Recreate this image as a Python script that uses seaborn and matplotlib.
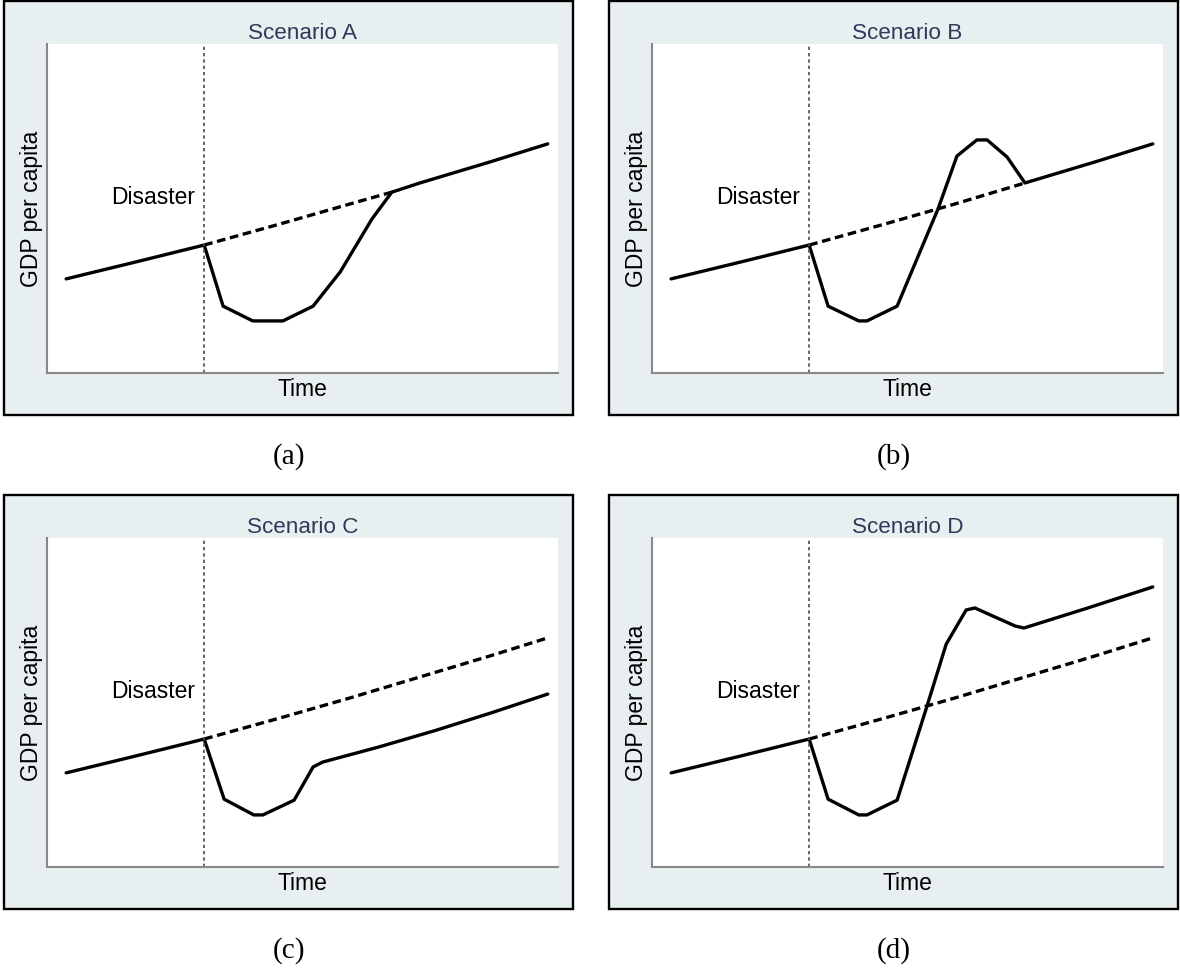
import matplotlib
matplotlib.use("Agg")
import matplotlib.pyplot as plt
from matplotlib.patches import Rectangle
import pandas as pd
import seaborn as sns

# time and GDP in arbitrary units (0-100 on both axes)
trend_time = [3.8, 17.3, 30.8, 45.6, 59.3, 73.0, 86.7, 98.0]
trend_gdp = [28.5, 33.6, 38.8, 45.2, 51.3, 57.7, 64.1, 69.6]
disaster_time = 30.8

# scenario A: recovers back to the trend
a_time = [30.8, 34.5, 40.3, 46.2, 52.1, 57.4, 63.6, 67.5, 73.0, 86.7, 98.0]
a_gdp = [38.8, 20.2, 15.7, 15.7, 20.2, 30.6, 46.7, 54.9, 57.7, 64.1, 69.6]
a_cf_time = [30.8, 45.6, 59.3, 67.5]
a_cf_gdp = [38.8, 45.2, 51.3, 54.9]

# scenario B: overshoot, then back to trend
b_time = [30.8, 34.5, 40.5, 42.1, 48.0, 56.0, 59.7, 63.6, 65.6, 69.5, 73.0, 86.7, 98.0]
b_gdp = [38.8, 20.2, 15.7, 15.7, 20.2, 49.8, 65.9, 70.8, 70.8, 65.6, 57.7, 64.1, 69.6]
b_cf_time = [30.8, 45.6, 59.3, 73.0]
b_cf_gdp = [38.8, 45.2, 51.3, 57.7]

# scenario C: permanent loss
c_time = [30.8, 34.7, 40.5, 42.3, 48.4, 52.1, 54.0, 65.0, 76.0, 87.0, 98.0]
c_gdp = [38.8, 20.5, 15.7, 15.7, 20.2, 30.3, 31.8, 36.4, 41.4, 46.8, 52.5]

# scenario D: permanent gain
d_time = [30.8, 34.5, 40.5, 42.1, 48.0, 53.8, 57.6, 61.5, 63.2, 71.1, 72.8, 85.3, 98.0]
d_gdp = [38.8, 20.5, 15.7, 15.7, 20.2, 48.6, 67.7, 78.1, 78.7, 73.2, 72.6, 78.7, 85.1]

cf_full_time = trend_time[2:]
cf_full_gdp = trend_gdp[2:]

titles = ["Scenario A", "Scenario B", "Scenario C", "Scenario D"]
captions = ["(a)", "(b)", "(c)", "(d)"]

sns.set_theme(style="white")
plt.rcParams["font.family"] = ["Liberation Sans", "DejaVu Sans"]

W, H = 1180, 970
fig = plt.figure(figsize=(W / 100, H / 100), dpi=100)
fig.patch.set_facecolor("white")

panels = [
    (a_time, a_gdp, a_cf_time, a_cf_gdp),
    (b_time, b_gdp, b_cf_time, b_cf_gdp),
    (c_time, c_gdp, cf_full_time, cf_full_gdp),
    (d_time, d_gdp, cf_full_time, cf_full_gdp),
]

pre = pd.DataFrame({"time": trend_time[:3], "gdp": trend_gdp[:3]})

for i, (t, g, cft, cfg) in enumerate(panels):
    dx = 605 * (i % 2)
    dy = 494 * (i // 2)

    # grey panel box
    fig.add_artist(Rectangle(((4 + dx) / W, 1 - (416 + dy) / H), 569 / W, 414.5 / H,
                             transform=fig.transFigure, facecolor="#e8eff1",
                             edgecolor="black", lw=1.7, zorder=-1))

    ax = fig.add_axes([(46.7 + dx) / W, 1 - (373.5 + dy) / H, 511.3 / W, 328.5 / H])
    ax.set_facecolor("white")

    sns.lineplot(data=pre, x="time", y="gdp", ax=ax, color="black", lw=2.4)
    sns.lineplot(x=cft, y=cfg, ax=ax, color="black", lw=2.4, sort=False,
                 linestyle=(0, (2.6, 1.4)), dash_capstyle="butt")
    sns.lineplot(x=t, y=g, ax=ax, color="black", lw=2.4, sort=False)
    ax.axvline(disaster_time, color="#4d4d4d", lw=1.2, linestyle=(0, (2, 1.8)))
    ax.text(disaster_time - 1.8, 51.6, "Disaster", ha="right", va="baseline",
            fontsize=16.5, color="black")

    ax.set(xlim=(0, 100), ylim=(0, 100), xticks=[], yticks=[])
    ax.set_xlabel("Time", fontsize=16.5, labelpad=3, color="black")
    ax.set_ylabel("GDP per capita", fontsize=16.5, labelpad=3, color="black")
    ax.set_title(titles[i], fontsize=16.2, color="#2e3a59", pad=4.3)
    sns.despine(ax=ax)
    for s in ["left", "bottom"]:
        ax.spines[s].set_color("#888888")
        ax.spines[s].set_linewidth(1.5)

    fig.text((288.5 + dx) / W, 1 - (457 + dy) / H, captions[i], ha="center", va="center",
             fontsize=21, family="Liberation Serif", color="black")

fig.savefig("out.png", dpi=100)
